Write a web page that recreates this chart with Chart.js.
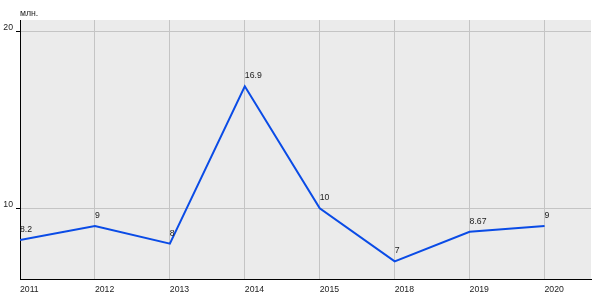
<!DOCTYPE html>
<html><head><meta charset="utf-8">
<script src="https://cdn.jsdelivr.net/npm/chart.js@4/dist/chart.umd.min.js"></script>
<style>html,body{margin:0;padding:0;background:#fff}#w{width:600px;height:300px}</style>
</head><body><div id="w"><canvas id="c"></canvas></div>
<script>
const categories = ['2011','2012','2013','2014','2015','2018','2019','2020'];
const values = [8.2, 9, 8, 16.9, 10, 7, 8.67, 9];
const valueLabels = ['8.2','9','8','16.9','10','7','8.67','9'];
const yTicks = [10, 20];
const unitLabel = 'млн.';

const FONT = '"Liberation Sans", Arial, sans-serif';
const bgPlugin = {
  id: 'bg',
  beforeDraw(chart) {
    const {ctx, chartArea: a} = chart;
    ctx.save();
    ctx.fillStyle = '#ebebeb';
    ctx.fillRect(a.left, a.top, a.right - a.left, a.bottom - a.top);
    ctx.restore();
  },
  afterDraw(chart) {
    const ctx = chart.ctx;
    ctx.save();
    ctx.font = '8.7px ' + FONT;
    ctx.fillStyle = '#222';
    ctx.textAlign = 'left';
    ctx.textBaseline = 'alphabetic';
    ctx.fillText(unitLabel, 20, 15.5);
    const meta = chart.getDatasetMeta(0);
    meta.data.forEach((p, i) => {
      ctx.fillText(valueLabels[i], p.x, p.y - 8);
    });
    ctx.restore();
  }
};

new Chart(document.getElementById('c'), {
  type: 'line',
  data: {
    datasets: [{
      data: values.map((v, i) => ({x: i, y: v})),
      borderColor: '#0a4be6',
      borderWidth: 2,
      pointRadius: 0,
      tension: 0,
      fill: false
    }]
  },
  options: {
    responsive: true,
    maintainAspectRatio: false,
    animation: false,
    events: [],
    layout: {padding: {top: 20, right: 9, left: 0, bottom: 0}},
    plugins: {legend: {display: false}, tooltip: {enabled: false}},
    scales: {
      x: {
        type: 'linear',
        min: 0,
        max: 7.62,
        afterBuildTicks(s) { s.ticks = categories.map((c, i) => ({value: i})); },
        afterFit(s) { s.height = 21; },
        grid: {color: '#c4c4c4', drawTicks: false, lineWidth: 1},
        border: {color: '#000', width: 1},
        ticks: {
          callback: (v) => categories[v] ?? '',
          align: 'start',
          padding: 5,
          maxRotation: 0,
          autoSkip: false,
          color: '#222',
          font: {family: FONT, size: 8.7}
        }
      },
      y: {
        min: 6,
        max: 20.65,
        afterBuildTicks(s) { s.ticks = yTicks.map(v => ({value: v})); },
        afterFit(s) { s.width = 20; },
        grid: {color: '#c4c4c4', tickColor: '#000', tickLength: 4, lineWidth: 1},
        border: {color: '#000', width: 1},
        ticks: {
          padding: 3,
          labelOffset: -4,
          color: '#222',
          font: {family: FONT, size: 8.7}
        }
      }
    }
  },
  plugins: [bgPlugin]
});
</script>
</body></html>
